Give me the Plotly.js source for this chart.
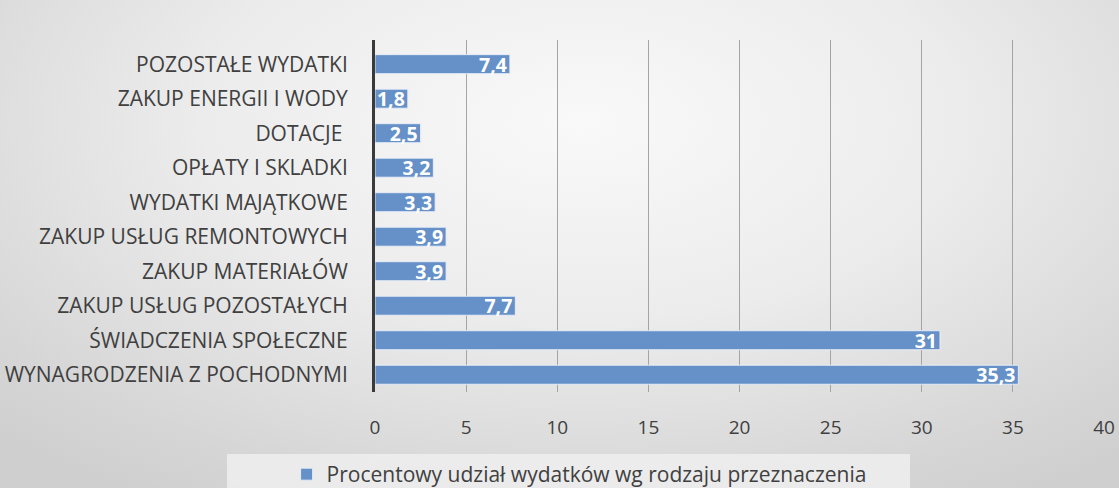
<!DOCTYPE html>
<html>
<head>
<meta charset="utf-8">
<script src="https://cdn.plot.ly/plotly-3.0.1.min.js"></script>
<style>
html,body{margin:0;padding:0;}
body{width:1119px;height:488px;overflow:hidden;
background:radial-gradient(ellipse 75% 90% at 52% 25%, #f9f9f9 0%, #ececec 45%, #d6d6d6 85%, #cfcfcf 100%);}
#chart{width:1119px;height:488px;}
</style>
</head>
<body>
<div id="chart"></div>
<script>
const categories = [
  "WYNAGRODZENIA Z POCHODNYMI",
  "ŚWIADCZENIA SPOŁECZNE",
  "ZAKUP USŁUG POZOSTAŁYCH",
  "ZAKUP MATERIAŁÓW",
  "ZAKUP USŁUG REMONTOWYCH",
  "WYDATKI MAJĄTKOWE",
  "OPŁATY I SKLADKI",
  "DOTACJE\u00a0",
  "ZAKUP ENERGII I WODY",
  "POZOSTAŁE WYDATKI"
];
const values = [35.3, 31, 7.7, 3.9, 3.9, 3.3, 3.2, 2.5, 1.8, 7.4];
const seriesName = "Procentowy udział wydatków wg rodzaju przeznaczenia";
const xTicks = [0, 5, 10, 15, 20, 25, 30, 35, 40];

const labels = values.map(v => String(v).replace('.', ','));

const trace = {
  type: 'bar',
  orientation: 'h',
  y: categories,
  x: values,
  name: seriesName,
  text: labels,
  textposition: 'inside',
  insidetextanchor: 'end',
  textangle: 0,
  constraintext: 'none',
  cliponaxis: false,
  textfont: {family: 'Open Sans, sans-serif', size: 19.5, color: '#ffffff', weight: 'bold'},
  marker: {color: '#6590c8', line: {color: 'rgba(235,240,248,0.9)', width: 1}},
  hoverinfo: 'none'
};

const plotH = 488 - 40 - 96;
const plotW = 1119 - 375 - 15;

const layout = {
  width: 1119, height: 488,
  margin: {l: 375, r: 15, t: 40, b: 96, autoexpand: false},
  paper_bgcolor: 'rgba(0,0,0,0)',
  plot_bgcolor: 'rgba(0,0,0,0)',
  bargap: 0.45,
  showlegend: true,
  font: {family: 'Open Sans, sans-serif', color: '#404040'},
  xaxis: {
    range: [0, 40],
    tickvals: xTicks,
    ticktext: xTicks.map(String),
    showgrid: true, gridcolor: '#a4a4a4', gridwidth: 1,
    zeroline: false, showline: false,
    ticks: 'outside', ticklen: 18, tickcolor: 'rgba(0,0,0,0)',
    tickfont: {size: 19, color: '#404040'},
    automargin: false,
    fixedrange: true
  },
  yaxis: {
    type: 'category',
    categoryorder: 'array', categoryarray: categories,
    range: [-0.5, 9.7],
    showline: true, linecolor: '#3a3a3a', linewidth: 3,
    showgrid: false,
    ticks: 'outside', ticklen: 20, tickcolor: 'rgba(0,0,0,0)',
    tickfont: {size: 21, color: '#404040'},
    automargin: false,
    fixedrange: true
  },
  legend: {
    orientation: 'h',
    x: 0.28, xanchor: 'center', xref: 'paper',
    y: -62 / plotH, yanchor: 'top', yref: 'paper',
    bgcolor: 'rgba(0,0,0,0)',
    font: {size: 21, color: '#404040'},
    itemwidth: 30
  },
  shapes: [{
    type: 'rect', xref: 'paper', yref: 'paper', layer: 'below',
    x0: (227 - 375) / plotW, x1: (910 - 375) / plotW,
    y0: -96 / plotH, y1: -62 / plotH,
    fillcolor: 'rgba(238,238,238,0.85)', line: {width: 0}
  }]
};

Plotly.newPlot('chart', [trace], layout, {displayModeBar: false, staticPlot: true});
</script>
</body>
</html>
